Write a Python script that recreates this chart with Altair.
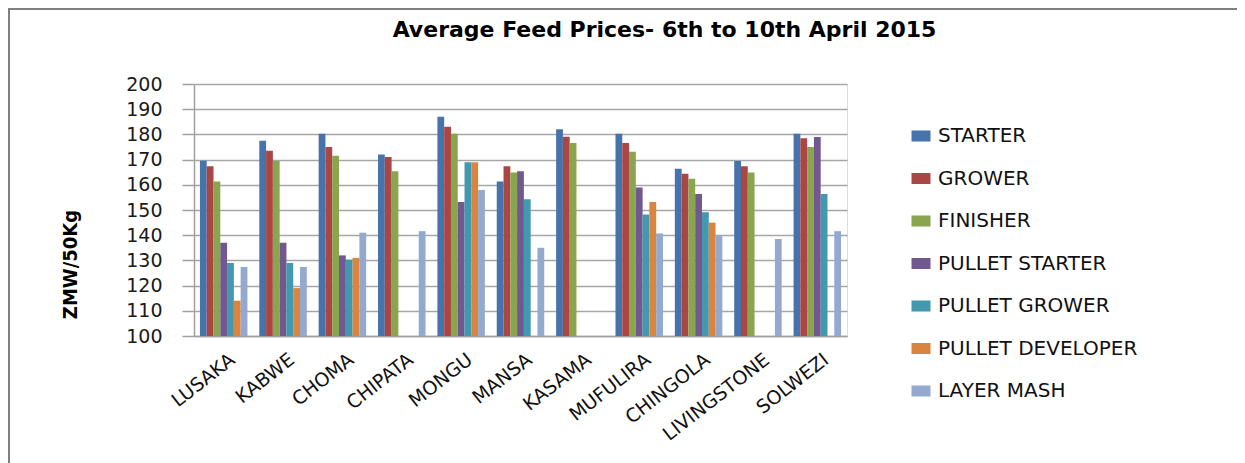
import altair as alt
import pandas as pd

towns = ["LUSAKA", "KABWE", "CHOMA", "CHIPATA", "MONGU", "MANSA", "KASAMA",
         "MUFULIRA", "CHINGOLA", "LIVINGSTONE", "SOLWEZI"]
series = ["STARTER", "GROWER", "FINISHER", "PULLET STARTER", "PULLET GROWER",
          "PULLET DEVELOPER", "LAYER MASH"]
colors = ["#4673AC", "#AA4643", "#89A54E", "#71588F", "#4198AF", "#DB843D", "#93A9CF"]

starter = [169.5, 177.5, 180.3, 172.0, 187.0, 161.3, 182.0, 180.3, 166.4, 169.4, 180.3]
grower = [167.4, 173.5, 175.0, 171.0, 183.0, 167.4, 179.1, 176.6, 164.4, 167.4, 178.5]
finisher = [161.3, 169.4, 171.5, 165.4, 180.3, 164.9, 176.6, 173.1, 162.4, 164.9, 175.0]
pullet_starter = [137.0, 137.0, 132.0, None, 153.2, 165.4, None, 158.9, 156.3, None, 179.0]
pullet_grower = [129.0, 129.0, 130.3, None, 168.9, 154.3, None, 148.2, 149.1, None, 156.3]
pullet_developer = [114.0, 119.0, 131.0, None, 168.9, None, None, 153.2, 145.0, None, None]
layer_mash = [127.4, 127.4, 141.0, 141.6, 157.9, 135.0, None, 140.7, 139.9, 138.5, 141.6]

TITLE = "Average Feed Prices- 6th to 10th April 2015"
Y_TITLE = "ZMW/50Kg"

values = [starter, grower, finisher, pullet_starter, pullet_grower, pullet_developer, layer_mash]
rows = []
for s, vals in zip(series, values):
    for t, v in zip(towns, vals):
        if v is not None:
            rows.append({"town": t, "feed": s, "price": v})
df = pd.DataFrame(rows)

W, H = 653, 252
PL, PT = 186, 76

bars = alt.Chart(df).mark_bar(clip=True).encode(
    x=alt.X("town:N", sort=towns,
            scale=alt.Scale(paddingInner=0.2, paddingOuter=0.1),
            axis=alt.Axis(title=None, labelAngle=-38, labelAlign="right",
                          labelBaseline="middle", labelPadding=21, labelOffset=9,
                          labelFont="DejaVu Sans", labelFontSize=19, labelColor="#111111",
                          ticks=False, domainColor="#A0A0A0", domainWidth=1.5,
                          grid=False, labelLimit=300)),
    xOffset=alt.XOffset("feed:N", sort=series, scale=alt.Scale(domain=series, paddingInner=0, paddingOuter=0)),
    y=alt.Y("price:Q",
            scale=alt.Scale(domain=[100, 200], zero=False, nice=False),
            axis=alt.Axis(values=list(range(100, 201, 10)), title=Y_TITLE,
                          titleFont="DejaVu Sans Condensed", titleFontSize=20,
                          titleFontWeight="bold", titleColor="#000000",
                          titleAngle=-90, titleX=-124, titleY=180,
                          titleAlign="center", titleBaseline="middle",
                          labelFont="DejaVu Sans", labelFontSize=19, labelColor="#1a1a1a",
                          labelPadding=20, tickSize=12, tickColor="#A0A0A0", tickWidth=1.5,
                          domainColor="#A0A0A0", domainWidth=1.5,
                          gridColor="#A6A6A6", gridWidth=1.5)),
    y2=alt.datum(100),
    color=alt.Color("feed:N", sort=series,
                    scale=alt.Scale(domain=series, range=colors),
                    legend=alt.Legend(title=None, orient="none", legendX=717, legendY=42,
                                      symbolType="M-1,-0.58L1,-0.58L1,0.58L-1,0.58Z",
                                      symbolSize=361, symbolStrokeWidth=0,
                                      labelFont="DejaVu Sans", labelFontSize=20,
                                      labelColor="#111111", labelOffset=7,
                                      rowPadding=22.5, labelLimit=400)),
)

one = alt.Data(values=[{"t": TITLE}])

title = alt.Chart(one).mark_text(
    font="DejaVu Sans", fontSize=22, fontWeight="bold", color="#000000",
    align="center", baseline="alphabetic"
).encode(text="t:N", x=alt.value(470.5), y=alt.value(-47))

frame = alt.Chart(one).mark_rect(
    fill=None, stroke="#808080", strokeWidth=2
).encode(x=alt.value(-185), x2=alt.value(1047), y=alt.value(-75), y2=alt.value(400))

chart = alt.layer(frame, bars, title).properties(
    width=W, height=H,
    padding={"left": PL, "top": PT, "right": 1229 - PL - W, "bottom": 455 - PT - H},
    autosize=alt.AutoSizeParams(type="none"),
).configure_view(stroke=None).configure(background="white")

chart.save("out.html", embed_options={"renderer": "svg", "actions": False})
